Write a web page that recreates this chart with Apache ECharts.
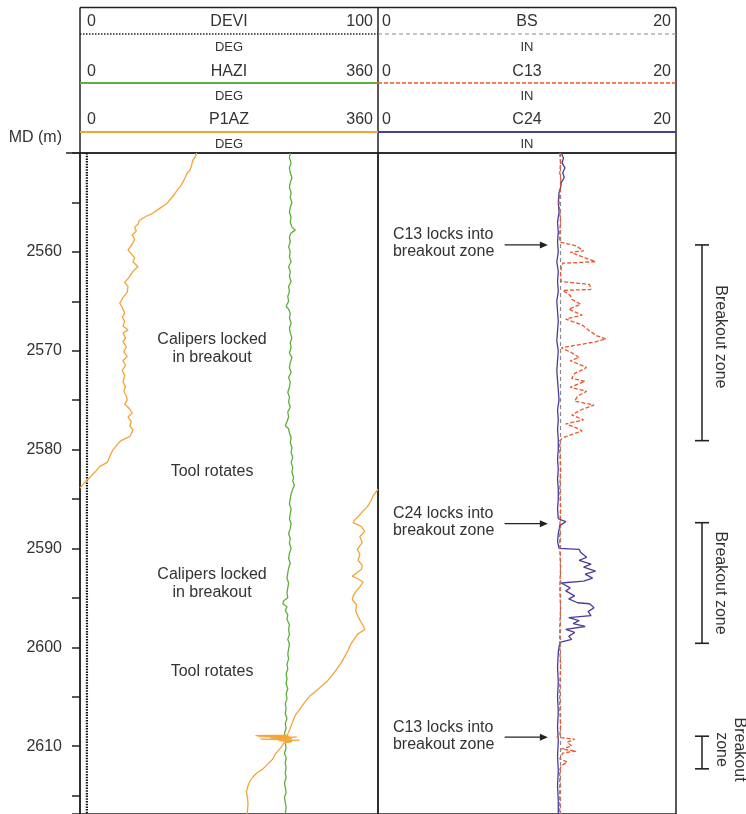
<!DOCTYPE html>
<html><head><meta charset="utf-8">
<script src="https://cdn.jsdelivr.net/npm/echarts@6/dist/echarts.min.js"></script>
<style>html,body{margin:0;padding:0;background:#fff}#c{width:746px;height:814px}</style>
</head><body><div id="c"></div>
<script>
// ---------- DATA ----------
const depthTicks = [2560, 2570, 2580, 2590, 2600, 2610];

const deviDepth = [2550, 2560, 2570, 2580, 2590, 2600, 2610, 2616.9];
const deviVal   = [2.3, 2.3, 2.35, 2.35, 2.3, 2.35, 2.3, 2.3];

const haziDepth = [2550.0,2550.5,2551.0,2551.5,2552.0,2552.5,2553.0,2553.5,2554.0,2554.5,2555.0,2555.5,2556.0,2556.5,2557.0,2557.5,2557.8,2558.1,2558.5,2559.0,2559.5,2560.0,2560.5,2561.0,2561.5,2562.0,2562.5,2563.0,2563.5,2564.0,2564.5,2565.0,2565.5,2565.8,2566.2,2566.7,2567.2,2567.7,2568.2,2568.7,2569.2,2569.7,2570.2,2570.7,2571.2,2571.7,2572.2,2572.7,2573.2,2573.7,2574.2,2574.7,2575.2,2575.7,2576.2,2576.7,2577.2,2577.6,2577.9,2578.3,2578.8,2579.3,2579.8,2580.3,2580.8,2581.3,2581.8,2582.3,2582.8,2583.2,2583.6,2584.0,2584.5,2585.0,2585.5,2586.0,2586.5,2587.0,2587.5,2588.0,2588.5,2589.0,2589.5,2590.0,2590.5,2591.0,2591.5,2592.0,2592.5,2593.0,2593.5,2594.0,2594.5,2595.0,2595.3,2595.6,2595.9,2596.3,2596.7,2597.2,2597.7,2598.2,2598.7,2599.2,2599.7,2600.2,2600.7,2601.2,2601.7,2602.2,2602.7,2603.2,2603.7,2604.2,2604.7,2605.2,2605.7,2606.2,2606.7,2607.2,2607.7,2608.2,2608.7,2609.2,2609.7,2610.2,2610.7,2611.2,2611.7,2612.2,2612.7,2613.2,2613.7,2614.2,2614.7,2615.2,2615.7,2616.2,2616.9];
const haziVal   = [254,253,255,253,254,256,254,253,255,254,256,254,253,255,254,256,260,255,253,254,252,254,253,255,252,254,253,255,252,253,251,252,249,252,254,253,255,253,254,256,254,255,253,256,254,253,255,252,254,253,251,253,252,254,251,252,250,248,252,253,255,254,256,255,257,255,257,256,258,257,259,257,255,254,253,255,254,253,255,254,252,254,253,255,253,252,254,252,251,250,252,251,250,251,246,245,250,248,251,250,253,252,253,251,253,252,251,252,250,251,249,250,249,251,249,250,248,249,248,250,248,249,247,249,248,249,247,249,248,249,248,249,247,248,249,247,248,249,248];

const p1azDepth = [2550.0,2550.4,2550.8,2551.2,2551.7,2552.1,2552.5,2553.0,2553.4,2553.8,2554.2,2554.6,2555.1,2555.5,2556.1,2556.4,2556.8,2557.2,2557.5,2557.9,2558.3,2558.7,2559.1,2559.5,2559.8,2560.2,2560.6,2561.0,2561.5,2561.8,2562.1,2562.6,2563.1,2563.5,2564.1,2564.6,2565.2,2565.6,2566.2,2566.6,2567.0,2567.5,2567.9,2568.2,2568.7,2569.1,2569.6,2570.1,2570.6,2571.0,2571.5,2572.0,2572.5,2573.2,2573.6,2574.1,2574.6,2575.0,2575.4,2575.9,2576.3,2576.7,2577.2,2577.6,2578.0,2578.4,2578.7,2579.0,2579.2,2579.6,2580.0,2580.5,2580.9,2581.3,2581.7,2582.2,2582.8,2583.3,2583.7,2583.9,
  null,
  2584.0,2584.2,2584.7,2585.1,2585.8,2586.3,2586.8,2587.1,2587.4,2587.8,2588.3,2588.8,2589.4,2590.1,2590.6,2591.2,2591.7,2592.1,2592.5,2592.8,2593.1,2593.4,2593.9,2594.4,2594.8,2595.2,2595.7,2596.3,2596.9,2597.4,2597.8,2598.2,2598.7,2599.2,2599.7,2600.3,2600.9,2601.5,2602.1,2602.8,2603.5,2604.0,2604.5,2604.9,2605.5,2606.2,2606.9,2607.5,2608.2,2608.6,2608.9,2608.95,2609.0,2609.05,2609.1,2609.15,2609.25,2609.3,2609.4,2609.45,2609.55,2609.7,2610.0,2610.4,2610.8,2611.3,2611.8,2612.3,2612.7,2613.1,2613.6,2614.0,2614.6,2615.1,2615.8,2616.9];
const p1azVal   = [141,139,136,135,133,129,127,124,121,117,114,110,105,98,88,80,72,70,66,68,63,66,64,61,58,62,66,64,70,66,63,59,54,58,57,52,48,51,54,51,54,52,58,52,55,52,56,53,57,52,55,51,54,52,55,53,56,57,54,60,63,58,62,60,64,62,60,52,48,44,40,37,35,33,24,19,12,6,2,0,
  null,
  360,359,354,352,347,341,336,332,330,340,344,338,341,335,338,336,341,340,334,329,336,342,338,333,330,329,334,333,336,339,342,344,335,331,327,324,320,316,311,305,298,291,284,278,272,266,260,257,254,252,250,212,253,215,262,230,256,218,265,240,256,246,244,240,236,233,227,221,214,209,205,203,201,202,203,202];

const bsDepth = [2550, 2616.9];
const bsVal   = [12.25, 12.25];

const c13Depth = [2550,2551,2552,2553,2554,2555,2556,2557,2558,2559.0,
  2559.2,2559.4,2559.9,2560.05,2560.6,2561.0,2561.15,2561.6,2562.3,2563.0,2563.3,2563.8,2563.9,2564.4,2564.8,2565.3,2565.8,2566.4,2566.8,2567.4,2568.0,2568.5,2568.8,2569.1,2569.7,2570.2,2570.7,2571.0,2571.7,2572.3,2572.8,2573.1,2573.7,2574.1,2574.6,2575.1,2575.5,2576.0,2576.5,2577.0,2577.4,2577.8,2578.1,2578.5,2578.8,2579.1,
  2580,2582,2584,2586,2588,2590,2592,2594,2596,2598,2600,2602,2604,2606,2608,2609.0,
  2609.1,2609.3,2609.6,2610.0,2610.3,2610.5,2610.7,2611.3,2611.6,2612.0,2612.4,2614,2616.9];
const c13Val = [12.2,12.25,12.2,12.3,12.2,12.15,12.2,12.25,12.2,12.2,
  12.3,13.3,13.8,12.9,13.9,14.6,12.4,12.3,12.25,12.3,14.2,14.3,12.4,12.9,13.0,13.6,12.8,13.7,12.6,13.7,14.2,14.7,15.3,14.6,12.3,13.0,13.5,12.9,14.0,13.2,13.0,13.9,12.9,14.0,13.4,13.2,14.5,13.6,13.0,13.8,12.6,13.3,13.7,13.0,12.4,12.2,
  12.2,12.25,12.2,12.25,12.2,12.2,12.25,12.2,12.25,12.2,12.2,12.25,12.2,12.2,12.25,12.2,
  12.0,13.2,12.7,13.0,12.3,13.3,12.4,12.2,12.7,12.3,12.2,12.2,12.2];

const c24Depth = [2550,2550.5,2551,2551.5,2552,2552.5,2553,2553.5,2554,2555,2556,2557,2558,2559,2560,2561,2562,2563,2564,2565,2566,2567,2568,2569,2570,2571,2572,2573,2574,2575,2576,2577,2578,2579,2580,2581,2582,2583,2584,2585,2586,2587,2587.3,2587.5,2587.7,2588.5,2589.3,2590.0,
  2590.1,2590.4,2590.9,2591.2,2591.6,2591.9,2592.3,2592.6,2593.0,2593.3,2593.5,2594.0,2594.3,2594.8,2595.1,2595.5,2595.6,2596.0,2596.4,2596.8,2597.0,2597.3,2597.6,2597.9,2598.2,2598.5,2598.9,2599.2,2599.5,
  2600.5,2602,2603.5,2605,2606.5,2608,2609.5,2611,2612.5,2614,2615.5,2616.9];
const c24Val = [12.3,12.45,12.35,12.55,12.4,12.5,12.3,12.25,12.15,12.1,12.15,12.05,12.1,12.05,12.1,12.0,12.1,12.05,12.1,12.0,12.05,12.1,12.05,12.0,12.1,12.05,12.0,12.05,12.1,12.15,12.05,12.1,12.05,12.1,12.1,12.05,12.1,12.05,12.1,12.1,12.05,12.1,12.6,12.7,12.2,12.1,12.05,12.15,
  13.5,13.6,14.0,13.5,14.3,13.8,14.6,13.9,14.4,13.8,12.3,12.9,12.6,13.2,12.8,13.4,14.2,14.5,14.1,14.3,12.8,13.5,13.1,13.9,12.6,13.2,12.8,13.0,12.2,
  12.1,12.05,12.1,12.05,12.1,12.05,12.1,12.05,12.1,12.05,12.1,12.1];

const zoneTop = [2559.3, 2587.4, 2609.0];
const zoneBot = [2579.1, 2599.6, 2612.3];
const zoneText = ['Breakout zone', 'Breakout zone', 'Breakout\nzone'];

const arrowDepth = [2559.3, 2587.5, 2609.1];
const arrowFrom = 8.5, arrowTo = 11.4;
const arrowNotes = ['C13 locks into\nbreakout zone', 'C24 locks into\nbreakout zone', 'C13 locks into\nbreakout zone'];

const leftNotes = ['Calipers locked\nin breakout', 'Tool rotates', 'Calipers locked\nin breakout', 'Tool rotates'];
const leftNoteDepth = [2569.8, 2582.2, 2593.6, 2602.5];
const leftNoteDeg = 159.5;

// ---------- LAYOUT ----------
const FONT = "'Liberation Sans', Arial, sans-serif";
const TXT = '#333';
const L0 = 80, TW = 298, L1 = 378, R1 = 676, TOP = 153, H = 662, HTOP = 7.5;
const dMin = 2550, dMax = 2550 + H / 9.9;

const ORANGE = '#F3A536', GREEN = '#5FAE3C', RED = '#E9572C', PURPLE = '#4A3C98', GREY = '#8a8a8a';

function zip(vals, depths) {
  return vals.map((v, i) => (v === null ? ['-', '-'] : [v, depths[i]]));
}

function yAxisBase(gi, show) {
  return {
    gridIndex: gi, type: 'value', inverse: true, min: dMin, max: dMax, interval: 5,
    axisLine: { show: show, onZero: false, lineStyle: { color: '#222', width: 1.5 } },
    axisTick: { show: show, length: 8, lineStyle: { color: '#222', width: 1.5 } },
    axisLabel: {
      show: show, margin: 18, fontSize: 16, color: TXT, fontFamily: FONT,
      formatter: v => (depthTicks.indexOf(Math.round(v)) >= 0 && Math.abs(v - Math.round(v)) < 1e-6 ? String(Math.round(v)) : '')
    },
    splitLine: { show: false }
  };
}
function xAxisHidden(gi, min, max) {
  return { gridIndex: gi, type: 'value', min: min, max: max, show: false, splitLine: { show: false } };
}

const series = [
  { name: 'DEVI', type: 'line', xAxisIndex: 0, yAxisIndex: 0, data: zip(deviVal, deviDepth), showSymbol: false, symbol: 'none',
    lineStyle: { color: '#111', width: 2.2, type: [1.5, 1.2] } },
  { name: 'HAZI', type: 'line', xAxisIndex: 1, yAxisIndex: 0, data: zip(haziVal, haziDepth), showSymbol: false, symbol: 'none',
    lineStyle: { color: GREEN, width: 1.3 } },
  { name: 'P1AZ', type: 'line', xAxisIndex: 1, yAxisIndex: 0, data: zip(p1azVal, p1azDepth), showSymbol: false, symbol: 'none', connectNulls: false,
    lineStyle: { color: ORANGE, width: 1.3 } },
  { name: 'BS', type: 'line', xAxisIndex: 2, yAxisIndex: 1, data: zip(bsVal, bsDepth), showSymbol: false, symbol: 'none',
    lineStyle: { color: GREY, width: 1.2, type: [4, 3] } },
  { name: 'C24', type: 'line', xAxisIndex: 2, yAxisIndex: 1, data: zip(c24Val, c24Depth), showSymbol: false, symbol: 'none',
    lineStyle: { color: PURPLE, width: 1.3 } },
  { name: 'C13', type: 'line', xAxisIndex: 2, yAxisIndex: 1, data: zip(c13Val, c13Depth), showSymbol: false, symbol: 'none',
    lineStyle: { color: RED, width: 1.3, type: [4, 2] } }
];
zoneTop.forEach((t, i) => {
  series.push({ name: 'zone' + i, type: 'line', xAxisIndex: 3, yAxisIndex: 2, data: [[0.5, t], [0.5, zoneBot[i]]],
    symbol: 'rect', symbolSize: [14, 1.6], showSymbol: true, itemStyle: { color: '#222' },
    lineStyle: { color: '#222', width: 1.5 } });
});

const option = {
  animation: false,
  backgroundColor: '#fff',
  grid: [
    { left: L0, top: TOP, width: TW, height: H, show: true, borderColor: '#222', borderWidth: 1.5 },
    { left: L1, top: TOP, width: R1 - L1, height: H, show: true, borderColor: '#222', borderWidth: 1.5 },
    { left: 690, top: TOP, width: 24, height: H, show: false }
  ],
  xAxis: [xAxisHidden(0, 0, 100), xAxisHidden(0, 0, 360), xAxisHidden(1, 0, 20), xAxisHidden(2, 0, 1)],
  yAxis: [yAxisBase(0, true), yAxisBase(1, false), yAxisBase(2, false)],
  series: series
};

const chart = echarts.init(document.getElementById('c'), null, { renderer: 'canvas' });
chart.setOption(option);

// ---------- HEADER + ANNOTATIONS ----------
const g = [];
function line(x1, y1, x2, y2, stroke, w, dash) {
  g.push({ type: 'line', shape: { x1, y1, x2, y2 }, style: { stroke, lineWidth: w, lineDash: dash || null }, silent: true });
}
function text(x, y, t, size, align, lh) {
  g.push({ type: 'text', x, y, silent: true,
    style: { text: t, fill: TXT, font: size + 'px ' + FONT, align: align || 'center', verticalAlign: 'middle', lineHeight: lh || 18 } });
}
// frame
line(L0, HTOP, R1, HTOP, '#222', 1.5);
line(L0, HTOP, L0, TOP, '#222', 1.5);
line(L1, HTOP, L1, TOP, '#222', 1.5);
line(R1, HTOP, R1, TOP, '#222', 1.5);
line(66, TOP, R1, TOP, '#222', 1.5);

const nameY = [22, 72, 120], unitY = [47, 96, 144], lineY = [34, 83, 132];
const leftHdr = { names: ['DEVI', 'HAZI', 'P1AZ'], max: ['100', '360', '360'], unit: 'DEG',
  styles: [['#222', 1.5, [1.5, 1.5]], [GREEN, 2, null], [ORANGE, 2, null]] };
const rightHdr = { names: ['BS', 'C13', 'C24'], max: ['20', '20', '20'], unit: 'IN',
  styles: [[GREY, 1.2, [4, 3]], [RED, 1.5, [4, 2]], [PURPLE, 1.8, null]] };
[[leftHdr, L0, L1, 7], [rightHdr, L1, R1, 4]].forEach(([h, a, b, pad]) => {
  for (let i = 0; i < 3; i++) {
    text(a + pad, nameY[i], '0', 16, 'left');
    text((a + b) / 2, nameY[i], h.names[i], 16, 'center');
    text(b - 5, nameY[i], h.max[i], 16, 'right');
    text((a + b) / 2, unitY[i], h.unit, 13, 'center');
    const s = h.styles[i];
    line(a, lineY[i], b, lineY[i], s[0], s[1], s[2]);
  }
});
text(62, 138, 'MD (m)', 16, 'right');

// left track notes
leftNotes.forEach((t, i) => {
  const p = chart.convertToPixel({ xAxisIndex: 1, yAxisIndex: 0 }, [leftNoteDeg, leftNoteDepth[i]]);
  text(p[0], p[1], t, 16, 'center');
});
// arrow notes + arrows
arrowNotes.forEach((t, i) => {
  const p = chart.convertToPixel({ xAxisIndex: 2, yAxisIndex: 1 }, [1.0, arrowDepth[i] - 0.15]);
  text(p[0], p[1], t, 16, 'left', 17);
  const a = chart.convertToPixel({ xAxisIndex: 2, yAxisIndex: 1 }, [arrowFrom, arrowDepth[i]]);
  const b = chart.convertToPixel({ xAxisIndex: 2, yAxisIndex: 1 }, [arrowTo, arrowDepth[i]]);
  line(a[0], a[1], b[0] - 6, b[1], '#222', 1.2);
  g.push({ type: 'polygon', silent: true, shape: { points: [[b[0], b[1]], [b[0] - 8, b[1] - 3.5], [b[0] - 8, b[1] + 3.5]] },
    style: { fill: '#222' } });
});
// zone labels
zoneText.forEach((t, i) => {
  const mid = (zoneTop[i] + zoneBot[i]) / 2 - (i === 0 ? 0.6 : 0) - (i === 2 ? 0.3 : 0);
  const p = chart.convertToPixel({ xAxisIndex: 3, yAxisIndex: 2 }, [0.5, mid]);
  const x = i === 2 ? 730 : 720;
  g.push({ type: 'text', x: x, y: p[1], rotation: -Math.PI / 2, silent: true,
    style: { text: t, fill: TXT, font: '16px ' + FONT, align: 'center', verticalAlign: 'middle', lineHeight: 18 } });
});

chart.setOption({ graphic: g });
</script>
</body></html>
